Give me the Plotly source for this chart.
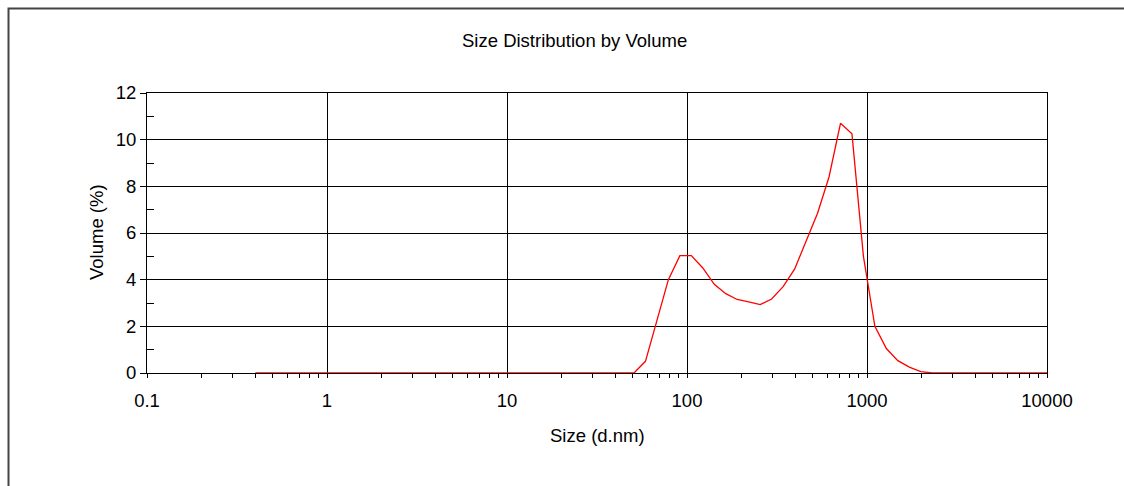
import plotly.graph_objects as go

# Size bins (d.nm) and volume distribution (%)
size_nm = [0.4, 0.4632, 0.5365, 0.6213, 0.7195, 0.8332, 0.9649,
           1.117, 1.294, 1.499, 1.736, 2.010, 2.328, 2.696, 3.122, 3.615,
           4.187, 4.849, 5.615, 6.503, 7.531, 8.721,
           10.10, 11.70, 13.54, 15.69, 18.17, 21.04, 24.36, 28.21, 32.67,
           37.84, 43.82, 50.75, 58.77, 68.06, 78.82, 91.28,
           105.7, 122.4, 141.8, 164.2, 190.1, 220.2, 255.0, 295.3, 342.0,
           396.1, 458.7, 531.2, 615.1, 712.4, 825.0, 955.4,
           1106, 1281, 1484, 1718, 1990, 2305, 2669, 3091, 3580, 4145,
           4801, 5560, 6439, 7456, 8635, 10000]
volume_pct = [0, 0, 0, 0, 0, 0, 0,
              0, 0, 0, 0, 0, 0, 0, 0, 0,
              0, 0, 0, 0, 0, 0,
              0, 0, 0, 0, 0, 0, 0, 0, 0,
              0, 0, 0, 0.5, 2.2, 4.0, 5.03,
              5.03, 4.5, 3.8, 3.4, 3.15, 3.05, 2.93, 3.17, 3.7,
              4.45, 5.65, 6.85, 8.4, 10.7, 10.25, 5.0,
              2.0, 1.05, 0.53, 0.25, 0.06, 0, 0, 0, 0, 0,
              0, 0, 0, 0, 0, 0]

x_major = [0.1, 1, 10, 100, 1000, 10000]
x_major_text = ["0.1", "1", "10", "100", "1000", "10000"]
x_minor = [m * d for d in [0.1, 1, 10, 100, 1000] for m in range(2, 10)]
y_major = [0, 2, 4, 6, 8, 10, 12]
y_minor = [1, 3, 5, 7, 9, 11]

FONT = "Liberation Sans, Arial, sans-serif"
FS = 18.5

fig = go.Figure()
fig.add_trace(go.Scatter(x=size_nm, y=volume_pct, mode="lines",
                         line=dict(color="#ff0000", width=1.3),
                         showlegend=False, hoverinfo="x+y"))
# helper trace so the overlaid y axis (crossing minor ticks) is drawn
fig.add_trace(go.Scatter(x=[1], y=[0], yaxis="y2", mode="markers",
                         marker=dict(opacity=0), showlegend=False,
                         hoverinfo="skip"))

fig.update_layout(
    width=1124, height=486,
    margin=dict(l=147, r=77, t=93, b=113),
    paper_bgcolor="white", plot_bgcolor="white",
    font=dict(family=FONT, size=FS, color="black"),
    xaxis=dict(type="log", range=[-1, 4],
               tickvals=x_major, ticktext=x_major_text,
               ticks="outside", ticklen=4, tickcolor="black", tickwidth=1,
               minor=dict(tickvals=x_minor, ticks="outside", ticklen=4,
                          tickcolor="black", tickwidth=1, showgrid=False),
               showgrid=True, gridcolor="black", gridwidth=1,
               showline=True, linecolor="black", linewidth=1, mirror=True,
               ticklabelstandoff=7,
               zeroline=False),
    yaxis=dict(range=[0, 12], tickvals=y_major,
               ticks="outside", ticklen=6, tickcolor="black", tickwidth=1,
               showgrid=True, gridcolor="black", gridwidth=1,
               showline=True, linecolor="black", linewidth=1, mirror=True,
               zeroline=False, ticklabelstandoff=0),
    yaxis2=dict(range=[0, 12], overlaying="y", side="left",
                tickvals=y_minor, ticks="inside", ticklen=7,
                tickcolor="black", tickwidth=1, showticklabels=False,
                showgrid=False, showline=False, zeroline=False),
    annotations=[
        dict(text="Size Distribution by Volume", xref="paper", yref="paper",
             x=(574 - 147) / 900, y=(373 - 40) / 280, showarrow=False,
             xanchor="center", yanchor="middle", font=dict(size=FS)),
        dict(text="Size (d.nm)", xref="paper", yref="paper",
             x=(597 - 147) / 900, y=(373 - 435) / 280, showarrow=False,
             xanchor="center", yanchor="middle", font=dict(size=FS)),
        dict(text="Volume (%)", xref="paper", yref="paper",
             x=(96 - 147) / 900, y=(373 - 232) / 280, showarrow=False,
             textangle=-90, xanchor="center", yanchor="middle",
             font=dict(size=FS)),
    ],
    shapes=[
        # outer frame; its right and bottom edges run past the page
        dict(type="rect", xref="paper", yref="paper",
             x0=(8.5 - 147) / 900, x1=(1250 - 147) / 900,
             y0=(373 - 650) / 280, y1=(373 - 8.5) / 280,
             line=dict(color="#444444", width=2),
             fillcolor="rgba(0,0,0,0)", layer="below"),
    ],
)

fig.write_html("out.html", config=dict(displayModeBar=False))
